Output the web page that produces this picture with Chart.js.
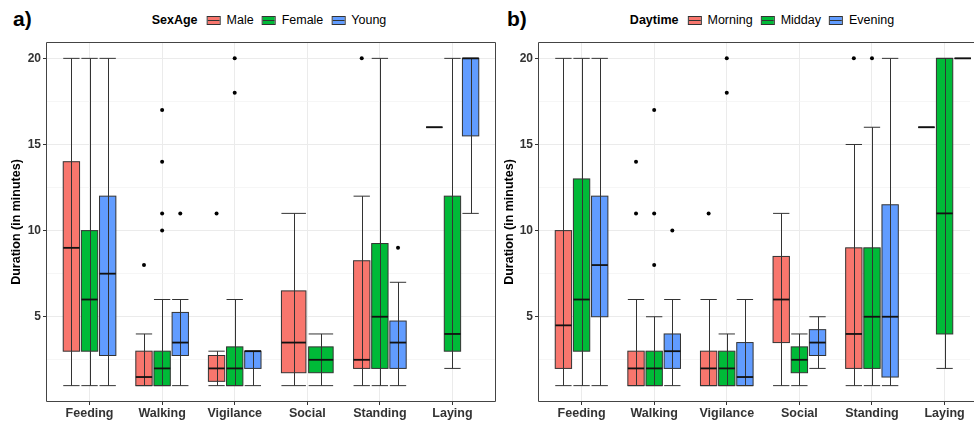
<!DOCTYPE html>
<html>
<head>
<meta charset="utf-8">
<script src="https://cdn.jsdelivr.net/npm/chart.js@4.4.1/dist/chart.umd.min.js"></script>
<style>
html, body { margin: 0; padding: 0; background: #fff; overflow: hidden; width: 974px; height: 421px; }
body { position: relative; font-family: "Liberation Sans", Arial, sans-serif; }
canvas { position: absolute; top: 0; }
.panel-label { position: absolute; top: 7px; font-weight: bold; font-size: 21px; color: #000; }
.legend { position: absolute; top: 13px; display: flex; align-items: center; font-size: 12.5px; color: #000; white-space: nowrap; transform: translateX(-50%); }
.legend b { margin-right: 9px; }
.legend .item { display: flex; align-items: center; margin-right: 8px; }
.legend .item:last-child { margin-right: 0; }
.key { display: inline-block; width: 12px; height: 7px; border: 1px solid #333; margin-right: 6px; }
</style>
</head>
<body>
<div class="panel-label" style="left:13px">a)</div>
<div class="panel-label" style="left:507px">b)</div>
<div class="legend" id="legend-a" style="left:269px"></div>
<div class="legend" id="legend-b" style="left:762px"></div>
<canvas id="chart-a" width="500" height="421" style="left:0px"></canvas>
<canvas id="chart-b" width="482" height="421" style="left:492px"></canvas>
<script>
// --- ข้อมูล ---
const CATEGORIES = ['Feeding', 'Walking', 'Vigilance', 'Social', 'Standing', 'Laying'];
const Y_TICKS = [2.5, 5, 7.5, 10, 12.5, 15, 17.5, 20];
const Y_LABELS = [5, 10, 15, 20];
const COLORS = ['#F8766D', '#00BA38', '#619CFF'];

// a) SexAge : [whisker ล่าง, Q1, median, Q3, whisker บน] ต่อหมวด, null = ไม่มีข้อมูล
const A_TITLE = 'SexAge';
const A_GROUPS = ['Male', 'Female', 'Young'];
const A_MALE = [[1, 3, 9, 14, 20], [1, 1, 1.5, 3, 4], [1, 1.25, 2, 2.75, 3], [1, 1.75, 3.5, 6.5, 11], [1, 2, 2.5, 8.25, 12], [16, 16, 16, 16, 16]];
const A_MALE_OUT = [[], [8], [11], [], [20], []];
const A_FEMALE = [[1, 3, 6, 10, 20], [1, 1, 2, 3, 6], [1, 1, 2, 3.25, 6], [1, 1.75, 2.5, 3.25, 4], [1, 2, 5, 9.25, 20], [2, 3, 4, 12, 20]];
const A_FEMALE_OUT = [[], [17, 14, 11, 10], [20, 18], [], [], []];
const A_YOUNG = [[1, 2.75, 7.5, 12, 20], [1, 2.75, 3.5, 5.25, 6], [1, 2, 3, 3, 3], null, [1, 2, 3.5, 4.75, 7], [11, 15.5, 20, 20, 20]];
const A_YOUNG_OUT = [[], [11], [], [], [9], []];

// b) Daytime
const B_TITLE = 'Daytime';
const B_GROUPS = ['Morning', 'Midday', 'Evening'];
const B_MORNING = [[1, 2, 4.5, 10, 20], [1, 1, 2, 3, 6], [1, 1, 2, 3, 6], [1, 3.5, 6, 8.5, 11], [1, 2, 4, 9, 15], [16, 16, 16, 16, 16]];
const B_MORNING_OUT = [[], [14, 11], [11], [], [20], []];
const B_MIDDAY = [[1, 3, 6, 13, 20], [1, 1, 2, 3, 5], [1, 1, 2, 3, 4], [1, 1.75, 2.5, 3.25, 4], [1, 2, 5, 9, 16], [2, 4, 11, 20, 20]];
const B_MIDDAY_OUT = [[], [17, 11, 8], [20, 18], [], [20], []];
const B_EVENING = [[1, 5, 8, 12, 20], [1, 2, 3, 4, 6], [1, 1, 1.5, 3.5, 6], [2, 2.75, 3.5, 4.25, 5], [1, 1.5, 5, 11.5, 20], [20, 20, 20, 20, 20]];
const B_EVENING_OUT = [[], [10], [], [], [], []];

const DODGE = 0.75;   // ความกว้างรวมของกลุ่มกล่องต่อหมวด
const BOX_FILL = 0.9; // สัดส่วนความกว้างกล่องในช่อง

/**
 * ตำแหน่ง x (หน่วยแกน) ของกล่องกลุ่ม gi ในหมวด i แบบ dodge ของ ggplot
 */
function dodgeInfo(stats, i, gi) {
    const present = stats.map((s, k) => (s[i] ? k : -1)).filter(k => k >= 0);
    const slot = DODGE / present.length;
    const k = present.indexOf(gi);
    return { center: i - DODGE / 2 + slot * (k + 0.5), half: slot * BOX_FILL / 2 };
}

// plugin วาดกล่อง whisker median และกรอบพื้นที่กราฟ
const boxPlugin = {
    id: 'boxes',
    beforeDatasetsDraw(chart, args, opts) {
        const { ctx, scales: { x, y } } = chart;
        const stats = opts.stats;
        ctx.save();
        CATEGORIES.forEach((cat, i) => {
            stats.forEach((series, gi) => {
                const s = series[i];
                if (!s) return;
                const d = dodgeInfo(stats, i, gi);
                const xl = x.getPixelForValue(d.center - d.half);
                const xr = x.getPixelForValue(d.center + d.half);
                const xc = Math.round(x.getPixelForValue(d.center)) + 0.5;
                const [lo, q1, med, q3, hi] = s.map(v => y.getPixelForValue(v));
                // กล่อง
                ctx.fillStyle = COLORS[gi];
                ctx.fillRect(xl, q3, xr - xl, q1 - q3);
                // whisker แบบ errorbar
                ctx.strokeStyle = '#333';
                ctx.lineWidth = 1;
                ctx.beginPath();
                if (lo - hi > 0.5) {
                    ctx.moveTo(xc, lo); ctx.lineTo(xc, hi);
                }
                ctx.moveTo(xl, lo); ctx.lineTo(xr, lo);
                ctx.moveTo(xl, hi); ctx.lineTo(xr, hi);
                ctx.stroke();
                if (q1 - q3 > 0.5) ctx.strokeRect(xl, q3, xr - xl, q1 - q3);
                // median
                ctx.strokeStyle = '#111';
                ctx.lineWidth = 1.8;
                ctx.beginPath();
                ctx.moveTo(xl, med); ctx.lineTo(xr, med);
                ctx.stroke();
            });
        });
        ctx.restore();
    },
    afterDraw(chart, args, opts) {
        const { ctx, chartArea: a } = chart;
        const l = Math.round(a.left) + 0.5, t = Math.round(a.top) + 0.5;
        const r = Math.round(a.right) - 0.5, b = Math.round(a.bottom) - 0.5;
        ctx.save();
        ctx.strokeStyle = '#444';
        ctx.lineWidth = 1;
        ctx.beginPath();
        // ภาพต้นฉบับถูกตัดขอบขวาของแผง b ออก: ลากขอบบน/ล่างไปจนสุดภาพ
        if (opts.openRight) {
            ctx.moveTo(chart.width, t); ctx.lineTo(l, t); ctx.lineTo(l, b); ctx.lineTo(chart.width, b);
        } else {
            ctx.rect(l, t, r - l, b - t);
        }
        ctx.stroke();
        ctx.restore();
    }
};

function buildLegend(id, title, groups) {
    const el = document.getElementById(id);
    el.innerHTML = `<b>${title}</b>`;
    groups.forEach((g, gi) => {
        const item = document.createElement('span');
        item.className = 'item';
        const c = COLORS[gi];
        item.innerHTML = `<span class="key" style="background:linear-gradient(to bottom, ${c} 0 40%, #333 40% 62%, ${c} 62% 100%)"></span>${g}`;
        el.appendChild(item);
    });
}

function createPanel(canvasId, stats, outliers, padLeft, padRight, yWidth, xMax, openRight) {
    const datasets = stats.map((series, gi) => {
        const pts = [];
        outliers[gi].forEach((vals, i) => {
            vals.forEach(v => pts.push({ x: dodgeInfo(stats, i, gi).center, y: v }));
        });
        return { data: pts, pointRadius: 2, pointBackgroundColor: '#000', pointBorderWidth: 0 };
    });

    return new Chart(document.getElementById(canvasId), {
        type: 'scatter',
        data: { datasets },
        plugins: [boxPlugin],
        options: {
            responsive: false,
            animation: false,
            layout: { padding: { top: 42, bottom: 0, left: padLeft, right: padRight } },
            plugins: {
                legend: { display: false },
                tooltip: { enabled: false },
                boxes: { stats, openRight }
            },
            scales: {
                x: {
                    type: 'linear',
                    min: -0.6,
                    max: xMax,
                    bounds: 'data',
                    afterBuildTicks: axis => { axis.ticks = CATEGORIES.map((c, i) => ({ value: i })); },
                    afterFit: axis => { axis.height = 19; },
                    ticks: {
                        autoSkip: false,
                        maxRotation: 0,
                        padding: 1,
                        color: '#333',
                        font: { family: '"Liberation Sans", Arial, sans-serif', size: 12.5, weight: 'bold' },
                        callback: v => CATEGORIES[v]
                    },
                    grid: { color: '#EBEBEB', tickLength: 3, tickColor: '#333' },
                    border: { display: false }
                },
                y: {
                    type: 'linear',
                    min: 0.05,
                    max: 20.95,
                    bounds: 'data',
                    afterBuildTicks: axis => { axis.ticks = Y_TICKS.map(v => ({ value: v })); },
                    afterFit: axis => { axis.width = yWidth; },
                    ticks: {
                        padding: 2,
                        color: '#333',
                        font: { family: '"Liberation Sans", Arial, sans-serif', size: 12, weight: 'bold' },
                        callback: v => (Y_LABELS.includes(v) ? String(v) : '')
                    },
                    grid: {
                        color: c => (c.tick && Y_LABELS.includes(c.tick.value) ? '#EBEBEB' : '#F2F2F2'),
                        lineWidth: c => (c.tick && Y_LABELS.includes(c.tick.value) ? 1 : 0.7),
                        tickLength: 3,
                        tickColor: c => (c.tick && Y_LABELS.includes(c.tick.value) ? '#333' : 'rgba(0,0,0,0)')
                    },
                    border: { display: false },
                    title: {
                        display: true,
                        text: 'Duration (in minutes)',
                        color: '#000',
                        padding: { top: 4, bottom: 0 },
                        font: { family: '"Liberation Sans", Arial, sans-serif', size: 12.5, weight: 'bold' }
                    }
                }
            }
        }
    });
}

buildLegend('legend-a', A_TITLE, A_GROUPS);
buildLegend('legend-b', B_TITLE, B_GROUPS);
createPanel('chart-a', [A_MALE, A_FEMALE, A_YOUNG], [A_MALE_OUT, A_FEMALE_OUT, A_YOUNG_OUT], 5, 0, 41, 5.6, false);
// แผง b ในภาพต้นฉบับถูกตัดที่ขอบขวา (แกน x สิ้นสุดก่อน 5.6)
createPanel('chart-b', [B_MORNING, B_MIDDAY, B_EVENING], [B_MORNING_OUT, B_MIDDAY_OUT, B_EVENING_OUT], 6, 0, 40, 5.35, true);
</script>
</body>
</html>
